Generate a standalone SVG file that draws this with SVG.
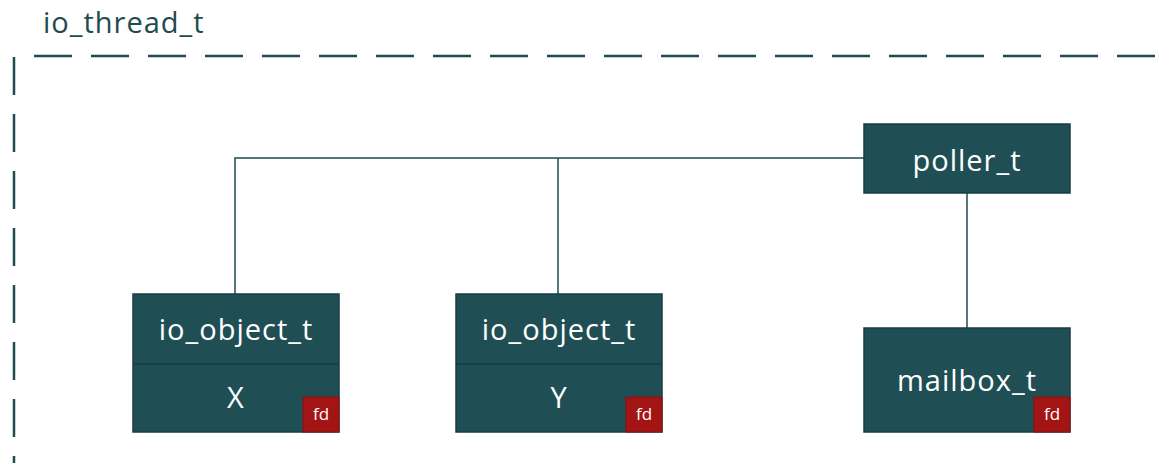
<svg xmlns="http://www.w3.org/2000/svg" width="1158" height="463" viewBox="0 0 1158 463">
  <style>
    .frame { fill: none; stroke: #1e4b50; stroke-width: 2.5; stroke-dasharray: 38 19; }
    .title { font-family: "Open Sans", "Noto Sans", sans-serif; font-size: 29px; letter-spacing: 1px; fill: #1e4b50; }
    .box { fill: #1f4f55; stroke: #173d42; stroke-width: 1.5; }
    .div { stroke: #173d42; stroke-width: 1.5; }
    .label { font-family: "Open Sans", "Noto Sans", sans-serif; font-size: 29px; letter-spacing: 1px; fill: #ffffff; text-anchor: middle; }
    .fd { fill: #a31515; stroke: #8a1010; stroke-width: 1; }
    .fdt { font-family: "Open Sans", "Noto Sans", sans-serif; font-size: 17px; fill: #ffffff; text-anchor: middle; }
    .wire { fill: none; stroke: #1e4b50; stroke-width: 1.5; }
  </style>

  <!-- io_thread_t boundary -->
  <g id="io_thread">
    <text class="title" x="43" y="33">io_thread_t</text>
    <line class="frame" x1="34" y1="56" x2="1158" y2="56"/>
    <line class="frame" x1="14" y1="57" x2="14" y2="463"/>
  </g>

  <!-- connectors -->
  <g id="connectors">
    <polyline class="wire" points="864,158 235,158 235,294"/>
    <line class="wire" x1="558" y1="158" x2="558" y2="294"/>
    <line class="wire" x1="967" y1="193" x2="967" y2="328"/>
  </g>

  <g id="poller">
    <rect class="box" x="864" y="124" width="206" height="69"/>
    <text class="label" x="967" y="171">poller_t</text>
  </g>

  <g id="io_object_x">
    <rect class="box" x="133" y="294" width="206" height="138"/>
    <line class="div" x1="133" y1="364" x2="339" y2="364"/>
    <text class="label" x="236" y="340">io_object_t</text>
    <text class="label" x="236" y="408">X</text>
    <rect class="fd" x="303" y="397" width="36" height="35"/>
    <text class="fdt" x="321" y="420">fd</text>
  </g>

  <g id="io_object_y">
    <rect class="box" x="456" y="294" width="206" height="138"/>
    <line class="div" x1="456" y1="364" x2="662" y2="364"/>
    <text class="label" x="559" y="340">io_object_t</text>
    <text class="label" x="559" y="408">Y</text>
    <rect class="fd" x="626" y="397" width="36" height="35"/>
    <text class="fdt" x="644" y="420">fd</text>
  </g>

  <g id="mailbox">
    <rect class="box" x="864" y="328" width="206" height="104"/>
    <text class="label" x="967" y="391">mailbox_t</text>
    <rect class="fd" x="1034" y="397" width="36" height="35"/>
    <text class="fdt" x="1052" y="420">fd</text>
  </g>
</svg>
